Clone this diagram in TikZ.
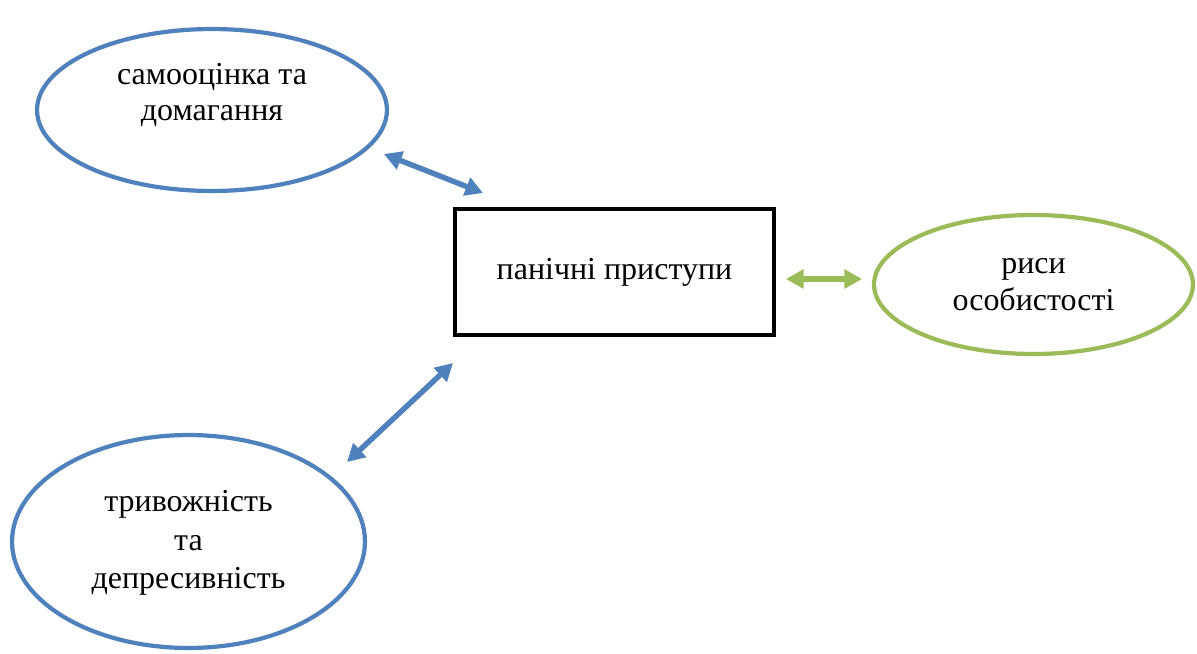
\documentclass[tikz,border=0pt]{standalone}
\usepackage{fontspec}
\setmainfont{Liberation Serif}
\usetikzlibrary{shapes.geometric,arrows.meta}

\definecolor{oblue}{HTML}{4F81BD}
\definecolor{ogreen}{HTML}{9BBB59}

\begin{document}
\begin{tikzpicture}[x=0.02cm,y=-0.02cm,
  every node/.style={font=\fontsize{18.2}{21}\selectfont,align=center},
  oval/.style={draw,ellipse,line width=2.4pt,inner sep=0pt},
  link/.style={line width=3.1pt,{Triangle[length=10pt,width=10.5pt]}-{Triangle[length=10pt,width=10.5pt]}}]
  \useasboundingbox (0,0) rectangle (1197,653);

  \node[draw,line width=2.8pt,minimum width=6.38cm,minimum height=2.52cm,inner sep=0pt] (0) at (614.5,272) {панічні приступи};

  \node[oval,draw=oblue,minimum width=7cm,minimum height=3.24cm] (1) at (212,110) {};
  \node (1t) at (212,95) {самооцінка та\\домагання};

  \node[oval,draw=oblue,minimum width=7.06cm,minimum height=4.26cm] (2) at (188.5,541.5) {};
  \node (2t) at (188.5,543) {тривожність\\[1pt]та\\[1pt]депресивність};

  \node[oval,draw=ogreen,minimum width=6.38cm,minimum height=2.78cm] (3) at (1033.5,284.5) {риси\\особистості};

  \coordinate (1a) at (384,154);
  \coordinate (1b) at (483,193);
  \coordinate (2a) at (347,462);
  \coordinate (2b) at (453,363);
  \coordinate (3a) at (786,279);
  \coordinate (3b) at (862,279);

  \draw[link,oblue] (1a)--(1b);
  \draw[link,oblue] (2a)--(2b);
  \draw[link,ogreen] (3a)--(3b);
\end{tikzpicture}
\end{document}
